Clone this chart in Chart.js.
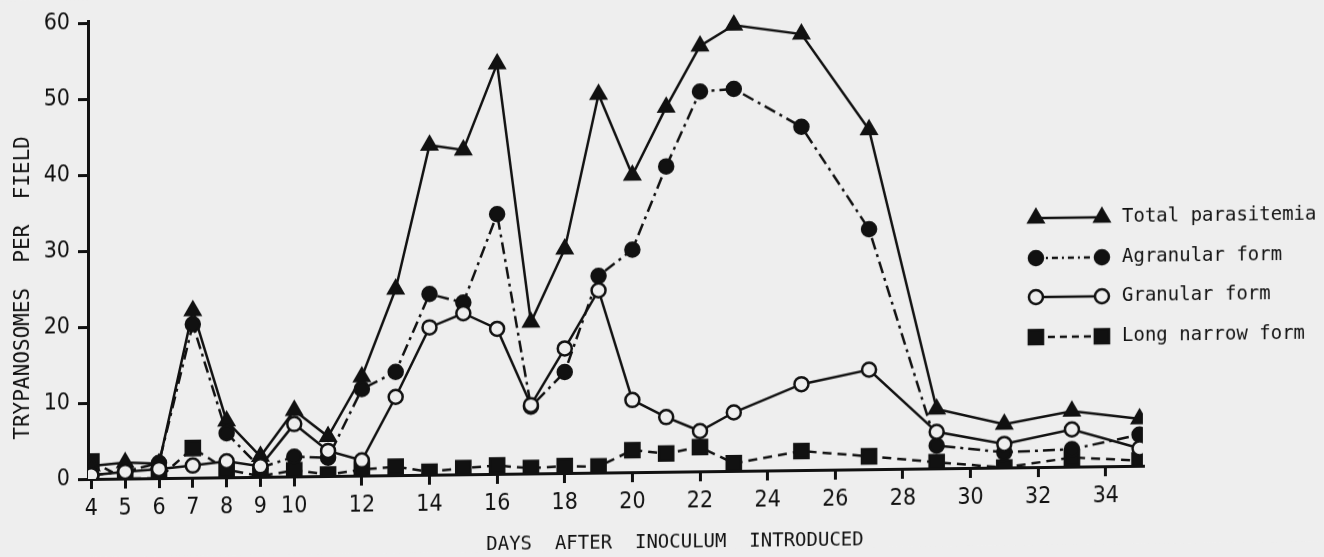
<!DOCTYPE html>
<html>
<head>
<meta charset="utf-8">
<script src="https://cdn.jsdelivr.net/npm/chart.js@4.4.1/dist/chart.umd.min.js"></script>
<style>
  html, body { margin: 0; padding: 0; background: #eeeeee; overflow: hidden; }
  #wrap { width: 1324px; height: 557px; }
  /* the scanned original is slightly slanted: right side sits higher */
  #chartParasitemia { transform: skewY(-0.72deg); transform-origin: 90px 479px; }
</style>
</head>
<body>
<div id="wrap"><canvas id="chartParasitemia" width="1324" height="557"></canvas></div>
<script>
// days sampled after inoculation
const days = [4, 5, 6, 7, 8, 9, 10, 11, 12, 13, 14, 15, 16, 17, 18, 19, 20, 21, 22, 23, 25, 27, 29, 31, 33, 35];
const totalParasitemia = [1.7, 2.1, 1.9, 22.0, 7.4, 2.7, 8.7, 5.2, 13.0, 24.5, 43.4, 42.7, 54.0, 19.9, 29.5, 49.8, 39.1, 48.0, 56.0, 58.7, 57.4, 44.7, 7.8, 5.7, 7.3, 6.2];
const agranularForm = [0.5, 0.9, 2.0, 20.2, 5.8, 1.2, 2.6, 2.4, 11.4, 13.6, 23.8, 22.6, 34.2, 8.8, 13.3, 25.9, 29.3, 40.2, 50.0, 50.3, 45.2, 31.6, 3.0, 2.0, 2.3, 4.1];
const granularForm = [0.5, 0.9, 1.2, 1.6, 2.1, 1.4, 6.9, 3.3, 2.0, 10.3, 19.4, 21.2, 19.1, 9.0, 16.4, 24.0, 9.5, 7.2, 5.3, 7.7, 11.3, 13.1, 4.8, 3.1, 4.9, 2.3];
const longNarrowForm = [2.3, 0.0, 0.0, 3.9, 1.0, 0.1, 0.8, 0.2, 0.8, 1.1, 0.4, 0.8, 1.1, 0.7, 0.9, 0.8, 2.9, 2.4, 3.2, 1.0, 2.5, 1.7, 0.8, 0.0, 1.2, 0.7];

const xTickValues = [4, 5, 6, 7, 8, 9, 10, 12, 14, 16, 18, 20, 22, 24, 26, 28, 30, 32, 34];
const yTickValues = [0, 10, 20, 30, 40, 50, 60];

const INK = "#111111";
const PAPER = "#eeeeee";
const NARROW = "'Liberation Sans Narrow', 'DejaVu Sans Condensed', sans-serif";
const MONO = "'DejaVu Sans Mono', 'Liberation Mono', monospace";

function points(values) {
  return days.map((d, i) => ({ x: d, y: values[i] }));
}

const backgroundPlugin = {
  id: "paperBackground",
  beforeDraw(chart) {
    const { ctx, width, height } = chart;
    ctx.save();
    ctx.fillStyle = PAPER;
    ctx.fillRect(0, 0, width, height);
    ctx.restore();
  }
};

// axis titles + legend drawn by hand, like the typed original
const annotationPlugin = {
  id: "typedLabels",
  afterDraw(chart) {
    const { ctx } = chart;
    ctx.save();
    ctx.fillStyle = INK;
    ctx.textBaseline = "middle";

    ctx.font = "19px " + MONO;
    ctx.textAlign = "center";
    ctx.fillText("DAYS  AFTER  INOCULUM  INTRODUCED", 675, 550);

    ctx.save();
    ctx.translate(24, 287);
    ctx.rotate(-Math.PI / 2);
    ctx.font = "21px " + MONO;
    ctx.fillText("TRYPANOSOMES  PER  FIELD", 0, 0);
    ctx.restore();

    const rowY = [230, 270, 309, 349];
    const x0 = 1036, x1 = 1102;
    chart.data.datasets.forEach((ds, i) => {
      const y = rowY[i];
      ctx.save();
      ctx.strokeStyle = INK;
      ctx.lineWidth = 2.5;
      ctx.setLineDash(ds.legendDash || []);
      ctx.beginPath();
      ctx.moveTo(x0, y);
      ctx.lineTo(x1, y);
      ctx.stroke();
      ctx.setLineDash([]);
      [x0, x1].forEach((px) => {
        ctx.fillStyle = ds.pointBackgroundColor;
        ctx.strokeStyle = INK;
        ctx.lineWidth = ds.pointBorderWidth;
        Chart.helpers.drawPoint(ctx, {
          pointStyle: ds.pointStyle,
          radius: ds.pointRadius,
          borderWidth: ds.pointBorderWidth
        }, px, y);
      });
      ctx.restore();
      ctx.font = "19px " + MONO;
      ctx.textAlign = "left";
      ctx.fillStyle = INK;
      ctx.fillText(ds.label, 1122, y);
    });
    ctx.restore();
  }
};

function series(label, values, style) {
  return {
    label,
    data: points(values),
    borderColor: INK,
    borderWidth: 2.5,
    pointBorderColor: INK,
    pointBorderWidth: 2.5,
    tension: 0,
    fill: false,
    ...style
  };
}

new Chart(document.getElementById("chartParasitemia"), {
  type: "line",
  data: {
    datasets: [
      series("Total parasitemia", totalParasitemia, {
        pointStyle: "triangle",
        pointRadius: 8.5,
        pointBackgroundColor: INK,
        order: 2
      }),
      series("Agranular form", agranularForm, {
        pointStyle: "circle",
        pointRadius: 7,
        pointBackgroundColor: INK,
        borderDash: [12, 5, 3, 5],
        legendDash: [6, 4, 2, 4],
        order: 1
      }),
      series("Granular form", granularForm, {
        pointStyle: "circle",
        pointRadius: 7,
        pointBackgroundColor: PAPER,
        order: 0
      }),
      series("Long narrow form", longNarrowForm, {
        pointStyle: "rect",
        pointRadius: 10,
        pointBackgroundColor: INK,
        borderDash: [9, 6],
        legendDash: [7, 5],
        order: 3
      })
    ]
  },
  options: {
    responsive: false,
    animation: false,
    layout: { padding: { top: 21, right: 181, bottom: 0, left: 0 } },
    plugins: {
      legend: { display: false },
      tooltip: { enabled: false }
    },
    scales: {
      x: {
        type: "linear",
        min: 3.9,
        max: 35.1,
        afterBuildTicks: (scale) => { scale.ticks = xTickValues.map((v) => ({ value: v })); },
        afterFit: (scale) => { scale.height = 78; },
        border: { display: true, color: INK, width: 3 },
        grid: { display: true, drawOnChartArea: false, drawTicks: true, tickLength: 10, color: INK, lineWidth: 3 },
        ticks: {
          autoSkip: false,
          maxRotation: 0,
          padding: 6,
          color: INK,
          font: { family: NARROW, size: 23 }
        }
      },
      y: {
        min: 0,
        max: 60.2,
        afterBuildTicks: (scale) => { scale.ticks = yTickValues.map((v) => ({ value: v })); },
        afterFit: (scale) => { scale.width = 88; },
        border: { display: true, color: INK, width: 3 },
        grid: { display: true, drawOnChartArea: false, drawTicks: true, tickLength: 10, color: INK, lineWidth: 3 },
        ticks: {
          padding: 8,
          color: INK,
          font: { family: NARROW, size: 23 }
        }
      }
    }
  },
  plugins: [backgroundPlugin, annotationPlugin]
});
</script>
</body>
</html>
